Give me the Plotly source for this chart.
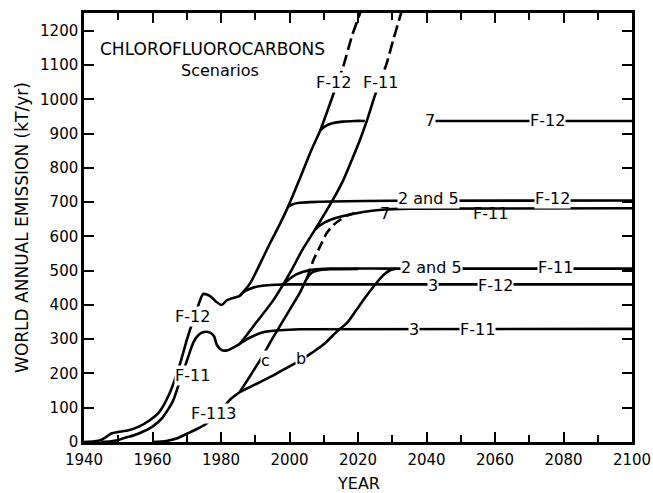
import plotly.graph_objects as go

# ---------------- data (years, kT/yr) ----------------
f12_x = [1940, 1943, 1945, 1946.5, 1948, 1950, 1953, 1956, 1959, 1962, 1965, 1968, 1970, 1971.4,
         1973.4, 1974.8, 1976.8, 1978.5, 1980.2, 1981.6, 1983, 1984.6, 1985.5, 1988.5, 1991.4,
         1994.3, 1997, 1999.6, 2003, 2006.3, 2009, 2012.8, 2014]
f12_y = [0, 2, 6, 15, 25, 29, 34, 45, 62, 88, 142, 227, 297, 341,
         400, 432, 426, 410, 400, 413, 419, 423, 427, 463, 520,
         580, 632, 687, 768, 850, 910, 1015, 1050]
f12_dash_x = [2014, 2015.7, 2018.2, 2020.6, 2021.5]
f12_dash_y = [1050, 1096, 1184, 1252, 1285]
f12_s3_x = [1985.5, 1987, 1989.5, 1992, 1996, 2000, 2100]
f12_s3_y = [427, 440, 451, 456, 459, 460, 460]
f12_s25_x = [1999.6, 2001, 2003, 2006, 2012, 2030, 2100]
f12_s25_y = [687, 694, 698, 700, 702, 704, 705]
f12_s7a_x = [2009, 2010.5, 2012.5, 2015.5, 2019, 2022]
f12_s7a_y = [910, 922, 930, 935, 937, 937]
f12_s7b_x = [2042.5, 2100]
f12_s7b_y = [937, 937]

f11_x = [1945, 1948, 1950, 1953, 1956, 1960, 1963, 1966, 1968, 1970, 1972, 1973.5, 1975, 1976.8,
         1978, 1978.8, 1980.2, 1982, 1984, 1985.5, 1990, 1995.3, 2000.5, 2003.7, 2007.4, 2012.1,
         2015.5, 2018.6, 2020.5, 2022.5, 2025, 2026]
f11_y = [0, 2, 6, 15, 25, 45, 72, 120, 178, 236, 292, 313, 321, 319,
         308, 283, 268, 268, 278, 287, 345, 414, 500, 560, 619, 697,
         760, 833, 880, 935, 1013, 1040]
f11_dash_x = [2026, 2028.4, 2030.3, 2032.3, 2033.5]
f11_dash_y = [1040, 1106, 1174, 1242, 1285]
f11_s3_x = [1985.5, 1988.5, 1992.3, 1997.2, 2003, 2100]
f11_s3_y = [287, 305, 320, 326, 329, 330]
f11_s25_x = [1998, 2000, 2002, 2004, 2007, 2012, 2030, 2100]
f11_s25_y = [459, 476, 489, 497, 503, 506, 506, 506]
f11_s7_x = [2007.4, 2009, 2011.8, 2016.7, 2022, 2027, 2035, 2100]
f11_s7_y = [619, 633, 648, 662, 672, 678, 681, 682]

f113_x = [1960, 1964, 1967, 1970, 1973, 1975.8, 1978, 1980, 1981.6, 1983, 1985.5]
f113_y = [0, 3, 10, 24, 38, 54, 75, 95, 112, 127, 146]
f113_c_x = [1985.5, 1988, 1991.4, 1995.3, 2000, 2003, 2005.1, 2006.5, 2008, 2012, 2020]
f113_c_y = [146, 185, 239, 307, 385, 435, 478, 494, 500, 504, 505]
f113_c_dash_x = [2005.1, 2007, 2008.9, 2010.8, 2012.8, 2014.7, 2016.7, 2019]
f113_c_dash_y = [478, 531, 570, 609, 633, 648, 660, 668]
f113_b_x = [1985.5, 1990, 1995, 2000, 2003, 2006.5, 2010, 2013.8, 2017, 2019.5, 2022, 2024.5,
            2027.4, 2029.5, 2031]
f113_b_y = [146, 168, 193, 221, 237, 260, 285, 322, 350, 385, 420, 453,
            487, 502, 506]

# inline labels
lab_text = ["F-12", "F-11", "7", "F-12", "2 and 5", "F-12", "2 and 5", "F-11",
            "3", "F-12", "3", "F-11", "F-12", "F-11", "F-113", "c", "b"]
lab_x = [2012.8, 2026.7, 2041, 2075.3, 2040.5, 2076.8, 2041.5, 2077.7,
         2042, 2060.2, 2036.4, 2055, 1971.7, 1971.7, 1978, 1993.1, 2003.5]
lab_y = [1049, 1049, 937, 937, 710, 712, 509, 509,
         456, 456, 329, 329, 365, 193, 83, 239, 245]
# labels hanging below the scenario-7 F-11 line
lab7_text = ["7", "F-11"]
lab7_x = [2027.9, 2058.8]
lab7_y = [668, 668]

x_ticks = list(range(1940, 2101, 20))
y_ticks = list(range(0, 1201, 100))

FONT = "DejaVu Sans"
fig = go.Figure()


def add(x, y, dash="solid"):
    fig.add_trace(go.Scatter(
        x=x, y=y, mode="lines", hoverinfo="skip", showlegend=False,
        line=dict(color="black", width=2.6, dash=dash, shape="spline", smoothing=0.6)))


add(f12_x, f12_y)
add(f12_dash_x, f12_dash_y, "12px,5px")
add(f12_s3_x, f12_s3_y)
add(f12_s25_x, f12_s25_y)
add(f12_s7a_x, f12_s7a_y)
add(f12_s7b_x, f12_s7b_y)
add(f11_x, f11_y)
add(f11_dash_x, f11_dash_y, "12px,5px")
add(f11_s3_x, f11_s3_y)
add(f11_s25_x, f11_s25_y)
add(f11_s7_x, f11_s7_y)
add(f113_x, f113_y)
add(f113_c_x, f113_c_y)
add(f113_c_dash_x, f113_c_dash_y, "10px,5px")
add(f113_b_x, f113_b_y)

for t, x, y in zip(lab_text, lab_x, lab_y):
    fig.add_annotation(x=x, y=y, xref="x", yref="y", text=t, showarrow=False,
                       bgcolor="white", borderpad=0,
                       font=dict(family=FONT, size=16, color="black"))
for t, x, y in zip(lab7_text, lab7_x, lab7_y):
    fig.add_annotation(x=x, y=y, xref="x", yref="y", text=t, showarrow=False,
                       font=dict(family=FONT, size=16, color="black"))

fig.add_annotation(x=1977.4, y=1148, xref="x", yref="y", text="CHLOROFLUOROCARBONS",
                   showarrow=False, font=dict(family=FONT, size=17, color="black"))
fig.add_annotation(x=1979.7, y=1083, xref="x", yref="y", text="Scenarios",
                   showarrow=False, font=dict(family=FONT, size=16, color="black"))
# x-axis title placed below the tick labels
fig.add_annotation(x=0.5, y=0, xref="paper", yref="paper", text="YEAR", showarrow=False,
                   yanchor="middle", yshift=-41,
                   font=dict(family=FONT, size=16, color="black"))

axis_common = dict(showline=True, linewidth=2.5, linecolor="black", mirror="ticks",
                   ticks="inside", tickwidth=2, tickcolor="black", showgrid=False,
                   zeroline=False, automargin=False,
                   tickfont=dict(family=FONT, size=15, color="black"))

fig.update_xaxes(range=[1940, 2100], tickvals=x_ticks, ticklen=10, ticklabelstandoff=2,
                 minor=dict(dtick=10, tick0=1940, ticks="inside", ticklen=7, tickwidth=2,
                            tickcolor="black"),
                 **axis_common)
fig.update_yaxes(range=[0, 1252], tickvals=y_ticks, ticklen=10,
                 title=dict(text="WORLD ANNUAL EMISSION (kT/yr)",
                            font=dict(family=FONT, size=17, color="black"), standoff=8),
                 **axis_common)

fig.update_layout(width=653, height=493, margin=dict(l=84, r=21, t=13, b=51),
                  paper_bgcolor="white", plot_bgcolor="white",
                  font=dict(family=FONT, color="black"))

fig.write_html("out.html")
